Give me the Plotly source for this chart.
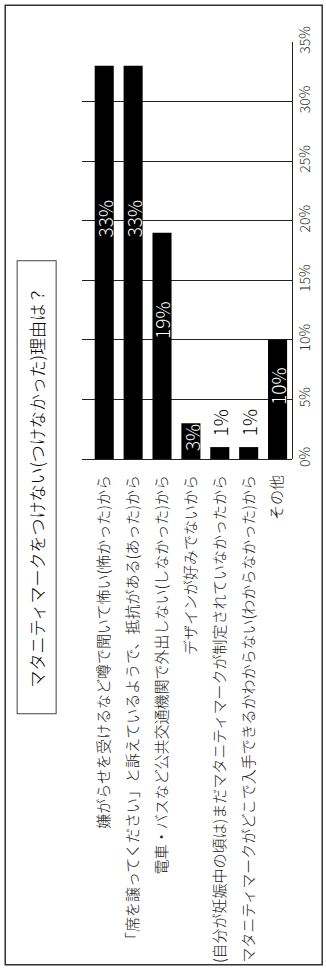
import plotly.graph_objects as go

# ---- data ----
categories = [
    "嫌がらせを受けるなど噂で聞いて怖い(怖かった)から",
    "「席を譲ってください」と訴えているようで、抵抗がある(あった)から",
    "電車・バスなど公共交通機関で外出しない(しなかった)から",
    "デザインが好みでないから",
    "(自分が妊娠中の頃は)まだマタニティマークが制定されていなかったから",
    "マタニティマークがどこで入手できるかわからない(わからなかった)から",
    "その他",
]
values = [33, 33, 19, 3, 1, 1, 10]
value_labels = ["33%", "33%", "19%", "3%", "1%", "1%", "10%"]
title_text = "マタニティマークをつけない(つけなかった)理由は？"
y_ticks = [0, 5, 10, 15, 20, 25, 30, 35]
y_tick_labels = ["0%", "5%", "10%", "15%", "20%", "25%", "30%", "35%"]

# ---- layout geometry (pixels) ----
W, H = 326, 975
L, R, T, B = 82, 32, 42, 513
PW = W - L - R
PH = H - T - B
FONT = "Noto Sans CJK JP, Noto Sans, sans-serif"


def px_x(p):
    return (p - L) / PW


def px_y(p):
    return (H - B - p) / PH


fig = go.Figure()
fig.add_trace(go.Bar(
    x=categories, y=values,
    marker=dict(color="black", line=dict(width=0)),
    width=0.66,
    hoverinfo="skip",
))

annotations = []
for cat, v, lab in zip(categories, values, value_labels):
    if v >= 3:
        annotations.append(dict(
            x=cat, y=v * 0.61, xref="x", yref="y", text=lab, showarrow=False,
            textangle=-90, xanchor="center", yanchor="middle",
            font=dict(family=FONT, size=19, color="white", weight=300),
        ))
    else:
        annotations.append(dict(
            x=cat, y=v, xref="x", yref="y", text=lab, showarrow=False,
            textangle=-90, xanchor="center", yanchor="bottom", yshift=9,
            font=dict(family=FONT, size=19, color="black", weight=300),
        ))

# title box
annotations.append(dict(
    x=px_x(36), y=px_y(490), xref="paper", yref="paper",
    text=title_text, showarrow=False, textangle=-90,
    xanchor="center", yanchor="middle",
    width=452, height=38, borderpad=0,
    bordercolor="#444", borderwidth=1, bgcolor="white",
    font=dict(family=FONT, size=17, color="black", weight=300),
))

fig.update_layout(
    width=W, height=H,
    margin=dict(l=L, r=R, t=T, b=B, pad=0),
    paper_bgcolor="white", plot_bgcolor="white",
    showlegend=False,
    font=dict(family=FONT, color="#222", weight=300),
    annotations=annotations,
    shapes=[dict(
        type="rect", xref="paper", yref="paper",
        x0=px_x(4.5), x1=px_x(324.5), y0=px_y(971.5), y1=px_y(5),
        line=dict(color="#333", width=1.5), fillcolor="rgba(0,0,0,0)",
        layer="below",
    )],
    xaxis=dict(
        type="category", range=[-0.77, 6.5],
        tickangle=-90, ticks="", showgrid=False, showline=False,
        ticklabelstandoff=12,
        tickfont=dict(family=FONT, size=15, color="#222", weight=300),
        fixedrange=True,
    ),
    yaxis=dict(
        side="right", range=[0, 35], tickvals=y_ticks, ticktext=y_tick_labels,
        tickangle=-90, ticks="", showgrid=True, gridcolor="#222", gridwidth=1,
        zeroline=True, zerolinecolor="#222", zerolinewidth=1,
        showline=True, linecolor="#222", linewidth=1, mirror=False,
        tickfont=dict(family=FONT, size=14, color="#333", weight=300),
        fixedrange=True,
    ),
)

fig.write_html("out.html")
